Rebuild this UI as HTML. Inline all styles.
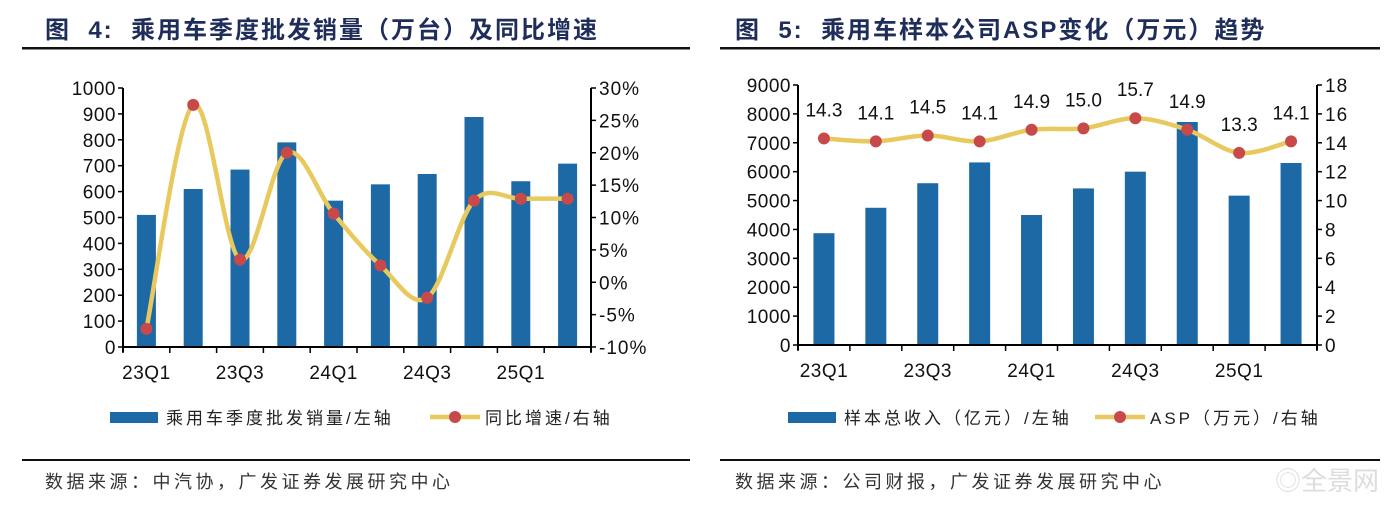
<!DOCTYPE html>
<html><head><meta charset="utf-8">
<style>
body{margin:0;background:#fff;width:1400px;height:505px;overflow:hidden;font-family:"Liberation Sans","Noto Sans CJK SC",sans-serif;}
svg{position:absolute;left:0;top:0}
</style></head>
<body>
<svg width="1400" height="505" id="svg">
<g>
<text x="45" y="38" font-size="24" letter-spacing="2" font-weight="bold" fill="#1f2d5a">图&#160;&#160;4:&#160;&#160;乘用车季度批发销量（万台）及同比增速</text>
<rect x="22" y="47" width="668" height="2.5" fill="#111"/>
</g>
<g>
<text x="735" y="38" font-size="24" letter-spacing="2" font-weight="bold" fill="#1f2d5a">图&#160;&#160;5:&#160;&#160;乘用车样本公司ASP变化（万元）趋势</text>
<rect x="720" y="47" width="660" height="2.5" fill="#111"/>
</g>
<rect x="22" y="459" width="668" height="2" fill="#111"/>
<rect x="720" y="459" width="660" height="2" fill="#111"/>
<text x="45" y="488" font-size="18" letter-spacing="3.5" fill="#333">数据来源：中汽协，广发证券发展研究中心</text>
<text x="735" y="488" font-size="18" letter-spacing="3.5" fill="#333">数据来源：公司财报，广发证券发展研究中心</text>
<text x="1275" y="490" font-size="26" fill="#ddd">◎全景网</text>
<g id="c1"></g>
<g id="c2"></g>
</svg>
<script>
const cats = ['23Q1','23Q2','23Q3','23Q4','24Q1','24Q2','24Q3','24Q4','25Q1','25Q2'];
const sales = [510,610,685,790,565,628,668,888,640,708];
const yoy = [-7.2,27.4,3.5,20.0,10.6,2.6,-2.4,12.6,12.9,12.9];
const leftTicks1 = [0,100,200,300,400,500,600,700,800,900,1000];
const rightTicks1 = [-10,-5,0,5,10,15,20,25,30];
const revenue = [3870,4750,5600,6320,4500,5420,6000,7720,5170,6300];
const asp = [14.3,14.1,14.5,14.1,14.9,15.0,15.7,14.9,13.3,14.1];
const leftTicks2 = [0,1000,2000,3000,4000,5000,6000,7000,8000,9000];
const rightTicks2 = [0,2,4,6,8,10,12,14,16,18];
const NS='http://www.w3.org/2000/svg';
function mk(p,tag,a,txt){const e=document.createElementNS(NS,tag);for(const k in a)e.setAttribute(k,a[k]);if(txt!==undefined)e.textContent=txt;p.appendChild(e);return e;}
function smooth(pts){let d='M'+pts[0][0]+','+pts[0][1];for(let i=0;i<pts.length-1;i++){const p0=pts[i-1]||pts[i],p1=pts[i],p2=pts[i+1],p3=pts[i+2]||p2;const t=6;d+=' C'+(p1[0]+(p2[0]-p0[0])/t)+','+(p1[1]+(p2[1]-p0[1])/t)+' '+(p2[0]-(p3[0]-p1[0])/t)+','+(p2[1]-(p3[1]-p1[1])/t)+' '+p2[0]+','+p2[1];}return d;}
function chart(g,o){
  const x0=o.x0,x1=o.x1,yT=o.yT,yB=o.yB,n=cats.length,step=(x1-x0)/n;
  const ly=v=>yB-(v-o.lmin)/(o.lmax-o.lmin)*(yB-yT);
  const ry=v=>yB-(v-o.rmin)/(o.rmax-o.rmin)*(yB-yT);
  const cx=i=>x0+step*(i+0.5);
  o.bars.forEach((v,i)=>{const r=mk(g,'rect',{x:cx(i)-o.bw/2,y:ly(v),width:o.bw,height:yB-ly(v),fill:'#1d69a6'});
    
    });
  mk(g,'line',{x1:x0,y1:yT,x2:x0,y2:yB+5,stroke:'#000','stroke-width':2});
  mk(g,'line',{x1:x1,y1:yT,x2:x1,y2:yB+5,stroke:'#000','stroke-width':2});
  mk(g,'line',{x1:x0,y1:yB,x2:x1,y2:yB,stroke:'#000','stroke-width':2});
  o.lt.forEach(v=>{mk(g,'line',{x1:x0-5,y1:ly(v),x2:x0,y2:ly(v),stroke:'#000','stroke-width':1.5});
    const t=mk(g,'text',{x:x0-7,y:ly(v)+7,'text-anchor':'end','font-size':19,'letter-spacing':0.5,fill:'#111'},v);
    
    });
  o.rt.forEach(v=>{mk(g,'line',{x1:x1,y1:ry(v),x2:x1+5,y2:ry(v),stroke:'#000','stroke-width':1.5});
    const t=mk(g,'text',{x:x1+8,y:ry(v)+7,'font-size':19,'letter-spacing':1,fill:'#111'},v+o.rs);
    
    });
  for(let i=0;i<=n;i++)mk(g,'line',{x1:x0+step*i,y1:yB,x2:x0+step*i,y2:yB+6,stroke:'#000','stroke-width':1.5});
  cats.forEach((c,i)=>{if(i%2==0){const t=mk(g,'text',{x:cx(i),y:yB+32,'text-anchor':'middle','font-size':19,'letter-spacing':0.5,fill:'#111'},c);
    
    }});
  const pts=o.line.map((v,i)=>[cx(i),ry(v)]);
  const p=mk(g,'path',{d:smooth(pts),fill:'none',stroke:'#e8c95e','stroke-width':4.5});
  
  
  pts.forEach((q,i)=>{const c=mk(g,'circle',{cx:q[0],cy:q[1],r:6,fill:'#c8494a'});
    
    
    if(o.lab){const t=mk(g,'text',{x:q[0],y:q[1]-22,'text-anchor':'middle','font-size':19,fill:'#111'},o.line[i].toFixed(1));
      
      }});
  const L=o.leg;
  mk(g,'rect',{x:L.x,y:412,width:48,height:11,fill:'#1d69a6'});
  const t1=mk(g,'text',{x:L.x+56,y:424,'font-size':17,'letter-spacing':3,fill:'#222'},L.a);
  
  
  mk(g,'line',{x1:L.x2,y1:417,x2:L.x2+50,y2:417,stroke:'#e8c95e','stroke-width':4.5});
  mk(g,'circle',{cx:L.x2+25,cy:417,r:6,fill:'#c8494a'});
  const t2=mk(g,'text',{x:L.x2+55,y:424,'font-size':17,'letter-spacing':3,fill:'#222'},L.b);
  
  
}
chart(document.getElementById('c1'),{x0:123,x1:591,yT:88,yB:347,lmin:0,lmax:1000,rmin:-10,rmax:30,bw:19,bars:sales,line:yoy,lt:leftTicks1,rt:rightTicks1,rs:'%',lab:false,leg:{x:110,x2:430,a:'乘用车季度批发销量/左轴',b:'同比增速/右轴'}});
chart(document.getElementById('c2'),{x0:798,x1:1317,yT:85,yB:345,lmin:0,lmax:9000,rmin:0,rmax:18,bw:21,bars:revenue,line:asp,lt:leftTicks2,rt:rightTicks2,rs:'',lab:true,leg:{x:788,x2:1095,a:'样本总收入（亿元）/左轴',b:'ASP（万元）/右轴'}});
</script>
</body></html>
